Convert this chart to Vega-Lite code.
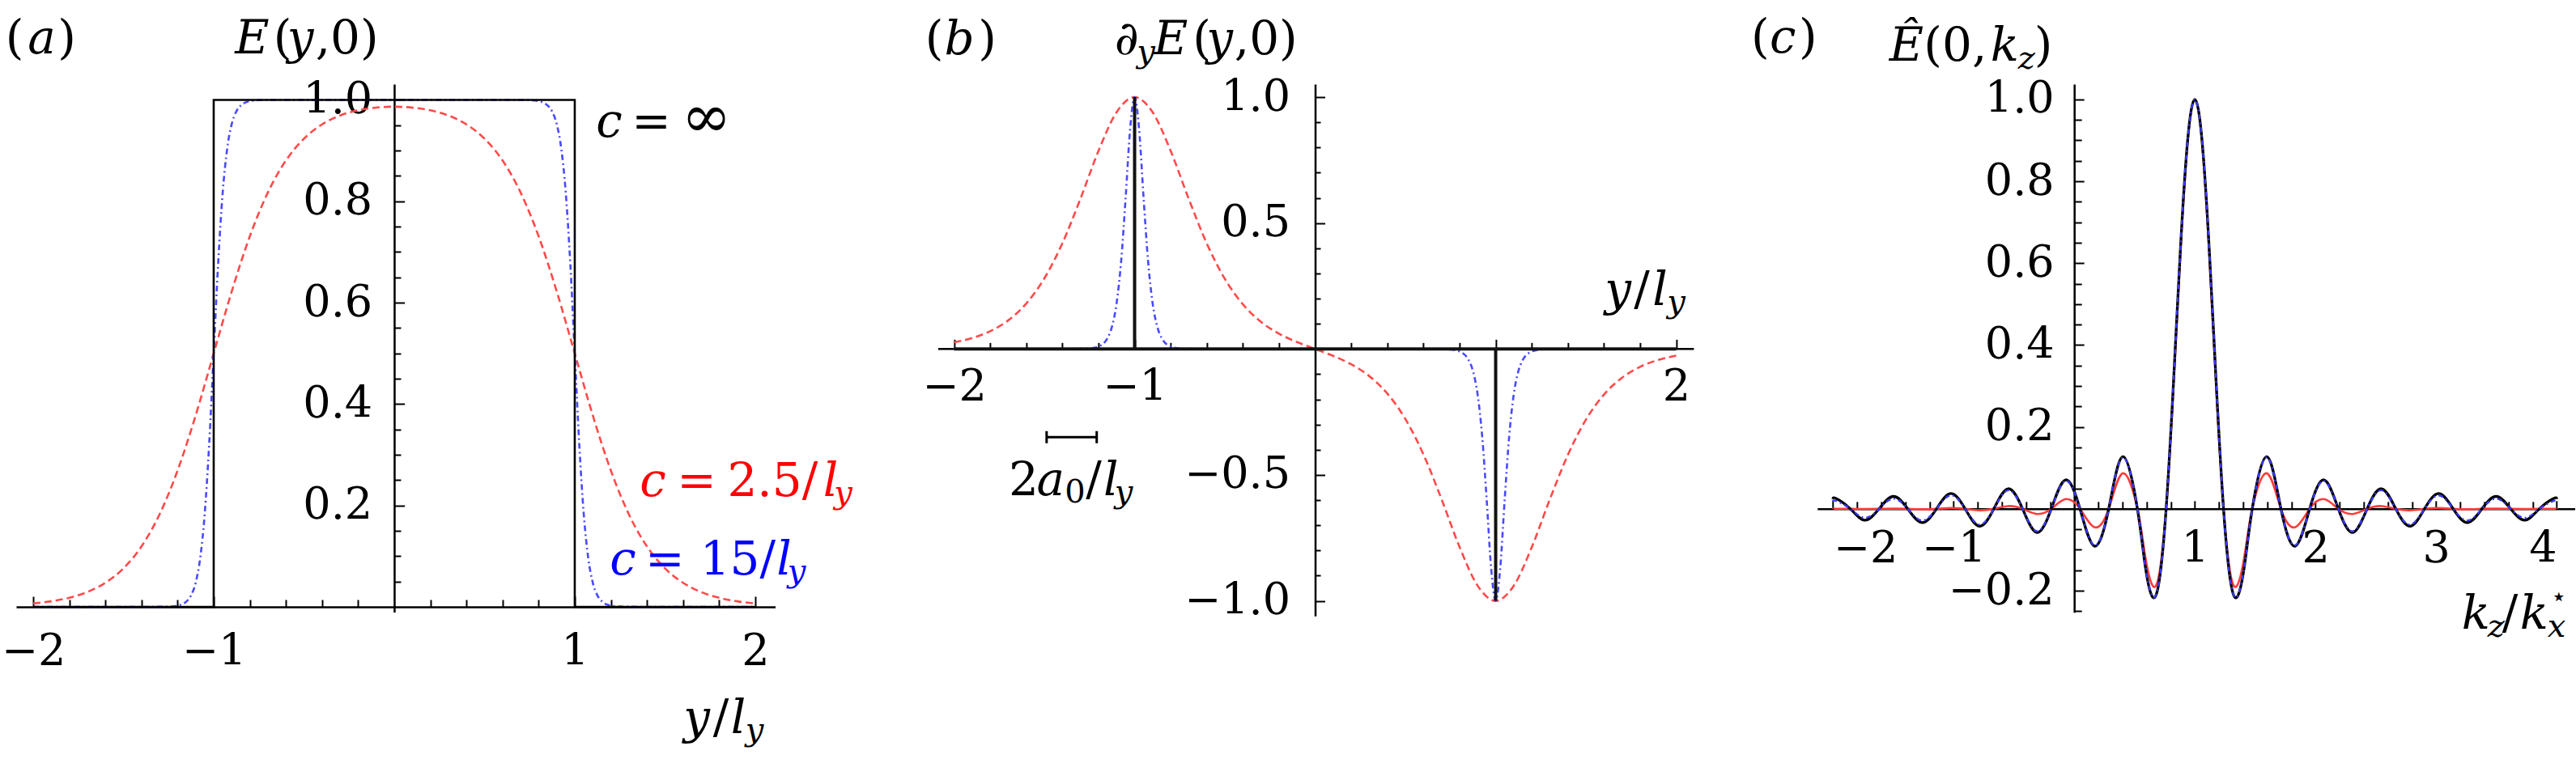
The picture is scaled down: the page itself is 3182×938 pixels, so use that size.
{
"$schema": "https://vega.github.io/schema/vega-lite/v6.json",
"background": "white",
"autosize": {"type": "pad"},
"padding": {"left": 1, "top": 19, "right": 0, "bottom": 0},
"columns": 3,
"spacing": 151.9,
"bounds": "flush",
"align": "each",
"datasets": {
"A": [
{"x":-2,"y":0,"s":"inf"},{"x":-1,"y":0,"s":"inf"},{"x":-1,"y":1,"s":"inf"},{"x":1,"y":1,"s":"inf"},{"x":1,"y":0,"s":"inf"},{"x":2,"y":0,"s":"inf"},
{"x":-2.0,"y":0.0067,"s":"c25"},{"x":-1.9,"y":0.0110,"s":"c25"},{"x":-1.8,"y":0.0180,"s":"c25"},{"x":-1.7,"y":0.0293,"s":"c25"},{"x":-1.6,"y":0.0474,"s":"c25"},{"x":-1.5,"y":0.0759,"s":"c25"},{"x":-1.4,"y":0.1192,"s":"c25"},{"x":-1.3,"y":0.1824,"s":"c25"},{"x":-1.2,"y":0.2689,"s":"c25"},{"x":-1.1,"y":0.3775,"s":"c25"},{"x":-1.0,"y":0.5000,"s":"c25"},{"x":-0.9,"y":0.6224,"s":"c25"},{"x":-0.8,"y":0.7309,"s":"c25"},{"x":-0.7,"y":0.8174,"s":"c25"},{"x":-0.6,"y":0.8805,"s":"c25"},{"x":-0.5,"y":0.9236,"s":"c25"},{"x":-0.4,"y":0.9517,"s":"c25"},{"x":-0.3,"y":0.9692,"s":"c25"},{"x":-0.2,"y":0.9795,"s":"c25"},{"x":-0.1,"y":0.9849,"s":"c25"},{"x":0,"y":0.9866,"s":"c25"},{"x":0.1,"y":0.9849,"s":"c25"},{"x":0.2,"y":0.9795,"s":"c25"},{"x":0.3,"y":0.9692,"s":"c25"},{"x":0.4,"y":0.9517,"s":"c25"},{"x":0.5,"y":0.9236,"s":"c25"},{"x":0.6,"y":0.8805,"s":"c25"},{"x":0.7,"y":0.8174,"s":"c25"},{"x":0.8,"y":0.7309,"s":"c25"},{"x":0.9,"y":0.6224,"s":"c25"},{"x":1.0,"y":0.5000,"s":"c25"},{"x":1.1,"y":0.3775,"s":"c25"},{"x":1.2,"y":0.2689,"s":"c25"},{"x":1.3,"y":0.1824,"s":"c25"},{"x":1.4,"y":0.1192,"s":"c25"},{"x":1.5,"y":0.0759,"s":"c25"},{"x":1.6,"y":0.0474,"s":"c25"},{"x":1.7,"y":0.0293,"s":"c25"},{"x":1.8,"y":0.0180,"s":"c25"},{"x":1.9,"y":0.0110,"s":"c25"},{"x":2.0,"y":0.0067,"s":"c25"},
{"x":-2,"y":0,"s":"c15"},{"x":-1.3,"y":0.0001,"s":"c15"},{"x":-1.25,"y":0.0006,"s":"c15"},{"x":-1.2,"y":0.0025,"s":"c15"},{"x":-1.15,"y":0.0110,"s":"c15"},{"x":-1.125,"y":0.0230,"s":"c15"},{"x":-1.1,"y":0.0474,"s":"c15"},{"x":-1.075,"y":0.0954,"s":"c15"},{"x":-1.05,"y":0.1824,"s":"c15"},{"x":-1.025,"y":0.3208,"s":"c15"},{"x":-1.0,"y":0.5,"s":"c15"},{"x":-0.975,"y":0.6792,"s":"c15"},{"x":-0.95,"y":0.8176,"s":"c15"},{"x":-0.925,"y":0.9047,"s":"c15"},{"x":-0.9,"y":0.9526,"s":"c15"},{"x":-0.875,"y":0.9770,"s":"c15"},{"x":-0.85,"y":0.9890,"s":"c15"},{"x":-0.8,"y":0.9975,"s":"c15"},{"x":-0.75,"y":0.9995,"s":"c15"},{"x":-0.7,"y":0.9999,"s":"c15"},{"x":0,"y":1.0,"s":"c15"},{"x":0.7,"y":0.9999,"s":"c15"},{"x":0.75,"y":0.9995,"s":"c15"},{"x":0.8,"y":0.9975,"s":"c15"},{"x":0.85,"y":0.9890,"s":"c15"},{"x":0.875,"y":0.9770,"s":"c15"},{"x":0.9,"y":0.9526,"s":"c15"},{"x":0.925,"y":0.9047,"s":"c15"},{"x":0.95,"y":0.8176,"s":"c15"},{"x":0.975,"y":0.6792,"s":"c15"},{"x":1.0,"y":0.5,"s":"c15"},{"x":1.025,"y":0.3208,"s":"c15"},{"x":1.05,"y":0.1824,"s":"c15"},{"x":1.075,"y":0.0954,"s":"c15"},{"x":1.1,"y":0.0474,"s":"c15"},{"x":1.125,"y":0.0230,"s":"c15"},{"x":1.15,"y":0.0110,"s":"c15"},{"x":1.2,"y":0.0025,"s":"c15"},{"x":1.25,"y":0.0006,"s":"c15"},{"x":1.3,"y":0.0001,"s":"c15"},{"x":2,"y":0,"s":"c15"}
],
"B": [
{"x":-2,"y":0,"s":"inf"},{"x":-1,"y":0,"s":"inf"},{"x":-1,"y":1,"s":"inf"},{"x":-1,"y":0,"s":"inf"},{"x":1,"y":0,"s":"inf"},{"x":1,"y":-1,"s":"inf"},{"x":1,"y":0,"s":"inf"},{"x":2,"y":0,"s":"inf"},
{"x":-2.0,"y":0.0266,"s":"c25"},{"x":-1.9,"y":0.0435,"s":"c25"},{"x":-1.8,"y":0.0707,"s":"c25"},{"x":-1.7,"y":0.1138,"s":"c25"},{"x":-1.6,"y":0.1807,"s":"c25"},{"x":-1.5,"y":0.2804,"s":"c25"},{"x":-1.4,"y":0.4200,"s":"c25"},{"x":-1.3,"y":0.5966,"s":"c25"},{"x":-1.2,"y":0.7865,"s":"c25"},{"x":-1.1,"y":0.9400,"s":"c25"},{"x":-1.0,"y":0.9998,"s":"c25"},{"x":-0.9,"y":0.9397,"s":"c25"},{"x":-0.8,"y":0.7860,"s":"c25"},{"x":-0.7,"y":0.5958,"s":"c25"},{"x":-0.6,"y":0.4186,"s":"c25"},{"x":-0.5,"y":0.2782,"s":"c25"},{"x":-0.4,"y":0.1771,"s":"c25"},{"x":-0.3,"y":0.1078,"s":"c25"},{"x":-0.2,"y":0.0608,"s":"c25"},{"x":-0.1,"y":0.0273,"s":"c25"},{"x":0,"y":0,"s":"c25"},{"x":0.1,"y":-0.0273,"s":"c25"},{"x":0.2,"y":-0.0608,"s":"c25"},{"x":0.3,"y":-0.1078,"s":"c25"},{"x":0.4,"y":-0.1771,"s":"c25"},{"x":0.5,"y":-0.2782,"s":"c25"},{"x":0.6,"y":-0.4186,"s":"c25"},{"x":0.7,"y":-0.5958,"s":"c25"},{"x":0.8,"y":-0.7860,"s":"c25"},{"x":0.9,"y":-0.9397,"s":"c25"},{"x":1.0,"y":-0.9998,"s":"c25"},{"x":1.1,"y":-0.9400,"s":"c25"},{"x":1.2,"y":-0.7865,"s":"c25"},{"x":1.3,"y":-0.5966,"s":"c25"},{"x":1.4,"y":-0.4200,"s":"c25"},{"x":1.5,"y":-0.2804,"s":"c25"},{"x":1.6,"y":-0.1807,"s":"c25"},{"x":1.7,"y":-0.1138,"s":"c25"},{"x":1.8,"y":-0.0707,"s":"c25"},{"x":1.9,"y":-0.0435,"s":"c25"},{"x":2.0,"y":-0.0266,"s":"c25"},
{"x":-2,"y":0,"s":"c15"},{"x":-1.3,"y":0.0005,"s":"c15"},{"x":-1.25,"y":0.0022,"s":"c15"},{"x":-1.2,"y":0.0099,"s":"c15"},{"x":-1.15,"y":0.0435,"s":"c15"},{"x":-1.125,"y":0.0898,"s":"c15"},{"x":-1.1,"y":0.1807,"s":"c15"},{"x":-1.075,"y":0.3450,"s":"c15"},{"x":-1.05,"y":0.5966,"s":"c15"},{"x":-1.025,"y":0.8716,"s":"c15"},{"x":-1.0,"y":1.0,"s":"c15"},{"x":-0.975,"y":0.8716,"s":"c15"},{"x":-0.95,"y":0.5966,"s":"c15"},{"x":-0.925,"y":0.3450,"s":"c15"},{"x":-0.9,"y":0.1807,"s":"c15"},{"x":-0.875,"y":0.0898,"s":"c15"},{"x":-0.85,"y":0.0435,"s":"c15"},{"x":-0.8,"y":0.0099,"s":"c15"},{"x":-0.75,"y":0.0022,"s":"c15"},{"x":-0.7,"y":0.0005,"s":"c15"},{"x":0,"y":0,"s":"c15"},{"x":0.7,"y":-0.0005,"s":"c15"},{"x":0.75,"y":-0.0022,"s":"c15"},{"x":0.8,"y":-0.0099,"s":"c15"},{"x":0.85,"y":-0.0435,"s":"c15"},{"x":0.875,"y":-0.0898,"s":"c15"},{"x":0.9,"y":-0.1807,"s":"c15"},{"x":0.925,"y":-0.3450,"s":"c15"},{"x":0.95,"y":-0.5966,"s":"c15"},{"x":0.975,"y":-0.8716,"s":"c15"},{"x":1.0,"y":-1.0,"s":"c15"},{"x":1.025,"y":-0.8716,"s":"c15"},{"x":1.05,"y":-0.5966,"s":"c15"},{"x":1.075,"y":-0.3450,"s":"c15"},{"x":1.1,"y":-0.1807,"s":"c15"},{"x":1.125,"y":-0.0898,"s":"c15"},{"x":1.15,"y":-0.0435,"s":"c15"},{"x":1.2,"y":-0.0099,"s":"c15"},{"x":1.25,"y":-0.0022,"s":"c15"},{"x":1.3,"y":-0.0005,"s":"c15"},{"x":2,"y":0,"s":"c15"}
],
"C": [
{"x":-2.0,"y":0.0239,"s":"inf"},{"x":-1.975,"y":0.0255,"s":"inf"},{"x":-1.856,"y":0,"s":"inf"},{"x":-1.737,"y":-0.0277,"s":"inf"},{"x":-1.618,"y":0,"s":"inf"},{"x":-1.499,"y":0.0303,"s":"inf"},{"x":-1.38,"y":0,"s":"inf"},{"x":-1.261,"y":-0.0335,"s":"inf"},{"x":-1.142,"y":0,"s":"inf"},{"x":-1.023,"y":0.0375,"s":"inf"},{"x":-0.904,"y":0,"s":"inf"},{"x":-0.785,"y":-0.0424,"s":"inf"},{"x":-0.666,"y":0,"s":"inf"},{"x":-0.547,"y":0.0490,"s":"inf"},{"x":-0.428,"y":0,"s":"inf"},{"x":-0.309,"y":-0.0579,"s":"inf"},{"x":-0.19,"y":0,"s":"inf"},{"x":-0.071,"y":0.0707,"s":"inf"},{"x":0.048,"y":0,"s":"inf"},{"x":0.167,"y":-0.0910,"s":"inf"},{"x":0.286,"y":0,"s":"inf"},{"x":0.405,"y":0.1273,"s":"inf"},{"x":0.524,"y":0,"s":"inf"},{"x":0.5835,"y":-0.1286,"s":"inf"},{"x":0.643,"y":-0.2122,"s":"inf"},{"x":0.7025,"y":-0.1801,"s":"inf"},{"x":0.762,"y":0,"s":"inf"},{"x":0.8215,"y":0.3001,"s":"inf"},{"x":0.881,"y":0.6366,"s":"inf"},{"x":0.9405,"y":0.9003,"s":"inf"},{"x":1.0,"y":1.0,"s":"inf"},{"x":1.0595,"y":0.9003,"s":"inf"},{"x":1.119,"y":0.6366,"s":"inf"},{"x":1.1785,"y":0.3001,"s":"inf"},{"x":1.238,"y":0,"s":"inf"},{"x":1.2975,"y":-0.1801,"s":"inf"},{"x":1.357,"y":-0.2122,"s":"inf"},{"x":1.4165,"y":-0.1286,"s":"inf"},{"x":1.476,"y":0,"s":"inf"},{"x":1.595,"y":0.1273,"s":"inf"},{"x":1.714,"y":0,"s":"inf"},{"x":1.833,"y":-0.0910,"s":"inf"},{"x":1.952,"y":0,"s":"inf"},{"x":2.071,"y":0.0707,"s":"inf"},{"x":2.19,"y":0,"s":"inf"},{"x":2.309,"y":-0.0579,"s":"inf"},{"x":2.428,"y":0,"s":"inf"},{"x":2.547,"y":0.0490,"s":"inf"},{"x":2.666,"y":0,"s":"inf"},{"x":2.785,"y":-0.0424,"s":"inf"},{"x":2.904,"y":0,"s":"inf"},{"x":3.023,"y":0.0375,"s":"inf"},{"x":3.142,"y":0,"s":"inf"},{"x":3.261,"y":-0.0335,"s":"inf"},{"x":3.38,"y":0,"s":"inf"},{"x":3.499,"y":0.0303,"s":"inf"},{"x":3.618,"y":0,"s":"inf"},{"x":3.737,"y":-0.0277,"s":"inf"},{"x":3.856,"y":0,"s":"inf"},{"x":3.975,"y":0.0255,"s":"inf"},{"x":4.0,"y":0.0239,"s":"inf"},
{"x":-2.0,"y":0.0182,"s":"c15"},{"x":-1.975,"y":0.0194,"s":"c15"},{"x":-1.856,"y":0,"s":"c15"},{"x":-1.737,"y":-0.0220,"s":"c15"},{"x":-1.618,"y":0,"s":"c15"},{"x":-1.499,"y":0.0250,"s":"c15"},{"x":-1.38,"y":0,"s":"c15"},{"x":-1.261,"y":-0.0285,"s":"c15"},{"x":-1.142,"y":0,"s":"c15"},{"x":-1.023,"y":0.0329,"s":"c15"},{"x":-0.904,"y":0,"s":"c15"},{"x":-0.785,"y":-0.0384,"s":"c15"},{"x":-0.666,"y":0,"s":"c15"},{"x":-0.547,"y":0.0454,"s":"c15"},{"x":-0.428,"y":0,"s":"c15"},{"x":-0.309,"y":-0.0548,"s":"c15"},{"x":-0.19,"y":0,"s":"c15"},{"x":-0.071,"y":0.0682,"s":"c15"},{"x":0.048,"y":0,"s":"c15"},{"x":0.167,"y":-0.0890,"s":"c15"},{"x":0.286,"y":0,"s":"c15"},{"x":0.405,"y":0.1259,"s":"c15"},{"x":0.524,"y":0,"s":"c15"},{"x":0.5835,"y":-0.1279,"s":"c15"},{"x":0.643,"y":-0.2113,"s":"c15"},{"x":0.7025,"y":-0.1796,"s":"c15"},{"x":0.762,"y":0,"s":"c15"},{"x":0.8215,"y":0.2998,"s":"c15"},{"x":0.881,"y":0.6363,"s":"c15"},{"x":0.9405,"y":0.9002,"s":"c15"},{"x":1.0,"y":1.0,"s":"c15"},{"x":1.0595,"y":0.9002,"s":"c15"},{"x":1.119,"y":0.6363,"s":"c15"},{"x":1.1785,"y":0.2998,"s":"c15"},{"x":1.238,"y":0,"s":"c15"},{"x":1.2975,"y":-0.1796,"s":"c15"},{"x":1.357,"y":-0.2113,"s":"c15"},{"x":1.4165,"y":-0.1279,"s":"c15"},{"x":1.476,"y":0,"s":"c15"},{"x":1.595,"y":0.1259,"s":"c15"},{"x":1.714,"y":0,"s":"c15"},{"x":1.833,"y":-0.0890,"s":"c15"},{"x":1.952,"y":0,"s":"c15"},{"x":2.071,"y":0.0682,"s":"c15"},{"x":2.19,"y":0,"s":"c15"},{"x":2.309,"y":-0.0548,"s":"c15"},{"x":2.428,"y":0,"s":"c15"},{"x":2.547,"y":0.0454,"s":"c15"},{"x":2.666,"y":0,"s":"c15"},{"x":2.785,"y":-0.0384,"s":"c15"},{"x":2.904,"y":0,"s":"c15"},{"x":3.023,"y":0.0329,"s":"c15"},{"x":3.142,"y":0,"s":"c15"},{"x":3.261,"y":-0.0285,"s":"c15"},{"x":3.38,"y":0,"s":"c15"},{"x":3.499,"y":0.0250,"s":"c15"},{"x":3.618,"y":0,"s":"c15"},{"x":3.737,"y":-0.0220,"s":"c15"},{"x":3.856,"y":0,"s":"c15"},{"x":3.975,"y":0.0194,"s":"c15"},{"x":4.0,"y":0.0182,"s":"c15"},
{"x":-2.0,"y":0.0001,"s":"c25"},{"x":-1.975,"y":0.0002,"s":"c25"},{"x":-1.856,"y":0,"s":"c25"},{"x":-1.737,"y":-0.0003,"s":"c25"},{"x":-1.618,"y":0,"s":"c25"},{"x":-1.499,"y":0.0005,"s":"c25"},{"x":-1.38,"y":0,"s":"c25"},{"x":-1.261,"y":-0.0010,"s":"c25"},{"x":-1.142,"y":0,"s":"c25"},{"x":-1.023,"y":0.0019,"s":"c25"},{"x":-0.904,"y":0,"s":"c25"},{"x":-0.785,"y":-0.0036,"s":"c25"},{"x":-0.666,"y":0,"s":"c25"},{"x":-0.547,"y":0.0067,"s":"c25"},{"x":-0.428,"y":0,"s":"c25"},{"x":-0.309,"y":-0.0126,"s":"c25"},{"x":-0.19,"y":0,"s":"c25"},{"x":-0.071,"y":0.0237,"s":"c25"},{"x":0.048,"y":0,"s":"c25"},{"x":0.167,"y":-0.0449,"s":"c25"},{"x":0.286,"y":0,"s":"c25"},{"x":0.405,"y":0.0869,"s":"c25"},{"x":0.524,"y":0,"s":"c25"},{"x":0.5835,"y":-0.1059,"s":"c25"},{"x":0.643,"y":-0.1838,"s":"c25"},{"x":0.7025,"y":-0.1628,"s":"c25"},{"x":0.762,"y":0,"s":"c25"},{"x":0.8215,"y":0.2893,"s":"c25"},{"x":0.881,"y":0.6263,"s":"c25"},{"x":0.9405,"y":0.8966,"s":"c25"},{"x":1.0,"y":1.0,"s":"c25"},{"x":1.0595,"y":0.8966,"s":"c25"},{"x":1.119,"y":0.6263,"s":"c25"},{"x":1.1785,"y":0.2893,"s":"c25"},{"x":1.238,"y":0,"s":"c25"},{"x":1.2975,"y":-0.1628,"s":"c25"},{"x":1.357,"y":-0.1838,"s":"c25"},{"x":1.4165,"y":-0.1059,"s":"c25"},{"x":1.476,"y":0,"s":"c25"},{"x":1.595,"y":0.0869,"s":"c25"},{"x":1.714,"y":0,"s":"c25"},{"x":1.833,"y":-0.0449,"s":"c25"},{"x":1.952,"y":0,"s":"c25"},{"x":2.071,"y":0.0237,"s":"c25"},{"x":2.19,"y":0,"s":"c25"},{"x":2.309,"y":-0.0126,"s":"c25"},{"x":2.428,"y":0,"s":"c25"},{"x":2.547,"y":0.0067,"s":"c25"},{"x":2.666,"y":0,"s":"c25"},{"x":2.785,"y":-0.0036,"s":"c25"},{"x":2.904,"y":0,"s":"c25"},{"x":3.023,"y":0.0019,"s":"c25"},{"x":3.142,"y":0,"s":"c25"},{"x":3.261,"y":-0.0010,"s":"c25"},{"x":3.38,"y":0,"s":"c25"},{"x":3.499,"y":0.0005,"s":"c25"},{"x":3.618,"y":0,"s":"c25"},{"x":3.737,"y":-0.0003,"s":"c25"},{"x":3.856,"y":0,"s":"c25"},{"x":3.975,"y":0.0002,"s":"c25"},{"x":4.0,"y":0.0001,"s":"c25"}
],
"A_up": [
{"x":-2.1538,"y":1.0918,"t":"(","s":"k"},{"x":-1.8641,"y":1.0918,"t":")","s":"k"},
{"x":-0.6695,"y":1.0918,"t":"(","s":"k"},{"x":-0.4363,"y":1.0918,"t":",0)","s":"k"},
{"x":1.3148,"y":0.9274,"t":"=","s":"k"},
{"x":1.5664,"y":0.2187,"t":"=","s":"r"},{"x":1.8453,"y":0.2187,"t":"2.5/","s":"r"},
{"x":1.3906,"y":0.0645,"t":"=","s":"b"},{"x":1.6937,"y":0.0645,"t":"15/","s":"b"},
{"x":1.7655,"y":-0.2490,"t":"/","s":"k"}
],
"A_big": [
{"x":1.5910,"y":0.9274,"t":"∞","s":"k"}
],
"A_it": [
{"x":-2.0300,"y":1.0918,"t":"a","s":"k"},{"x":-0.8816,"y":1.0918,"t":"E","s":"k"},{"x":-0.5933,"y":1.0918,"t":"y","s":"k"},
{"x":1.1179,"y":0.9274,"t":"c","s":"k"},
{"x":1.3605,"y":0.2187,"t":"c","s":"r"},{"x":2.3753,"y":0.2187,"t":"l","s":"r"},
{"x":1.1937,"y":0.0645,"t":"c","s":"b"},{"x":2.1179,"y":0.0645,"t":"l","s":"b"},
{"x":1.6027,"y":-0.2490,"t":"y","s":"k"},{"x":1.8641,"y":-0.2490,"t":"l","s":"k"}
],
"A_sub": [
{"x":2.4359,"y":0.2043,"t":"y","s":"r"},{"x":2.1780,"y":0.0501,"t":"y","s":"b"},{"x":1.9448,"y":-0.2634,"t":"y","s":"k"}
],
"B_up": [
{"x":-2.1605,"y":1.1703,"t":"(","s":"k"},{"x":-1.8668,"y":1.1703,"t":")","s":"k"},
{"x":-0.6785,"y":1.1703,"t":"(","s":"k"},{"x":-0.4475,"y":1.1703,"t":",0)","s":"k"},
{"x":1.7655,"y":0.1760,"t":"/","s":"k"},
{"x":-1.6973,"y":-0.5795,"t":"2","s":"k"},{"x":-1.2704,"y":-0.5795,"t":"/","s":"k"}
],
"B_it": [
{"x":-2.0534,"y":1.1703,"t":"b","s":"k"},{"x":-1.1112,"y":1.1703,"t":"∂","s":"k"},{"x":-0.8951,"y":1.1703,"t":"E","s":"k"},{"x":-0.6022,"y":1.1703,"t":"y","s":"k"},
{"x":1.6040,"y":0.1760,"t":"y","s":"k"},{"x":1.8686,"y":0.1760,"t":"l","s":"k"},
{"x":-1.5426,"y":-0.5795,"t":"a","s":"k"},{"x":-1.1726,"y":-0.5795,"t":"l","s":"k"}
],
"B_sub": [
{"x":-0.9879,"y":1.1382,"t":"y","s":"k"},{"x":1.9493,"y":0.1471,"t":"y","s":"k"},{"x":-1.1112,"y":-0.6084,"t":"y","s":"k"}
],
"B_subup": [
{"x":-1.3870,"y":-0.6084,"t":"0","s":"k"}
],
"C_up": [
{"x":-2.6792,"y":1.1142,"t":"(","s":"k"},{"x":-2.2826,"y":1.1142,"t":")","s":"k"},
{"x":-1.2470,"y":1.0945,"t":"(0,","s":"k"},{"x":-0.3322,"y":1.0945,"t":")","s":"k"},
{"x":3.5470,"y":-0.2923,"t":"/","s":"k"}
],
"C_it": [
{"x":-2.5248,"y":1.1142,"t":"c","s":"k"},{"x":-1.5336,"y":1.0945,"t":"Ê","s":"k"},{"x":-0.6946,"y":1.0945,"t":"k","s":"k"},
{"x":3.2114,"y":-0.2923,"t":"k","s":"k"},{"x":3.6946,"y":-0.2923,"t":"k","s":"k"}
],
"C_sub": [
{"x":-0.4664,"y":1.0747,"t":"z","s":"k"},{"x":3.4262,"y":-0.3121,"t":"z","s":"k"},{"x":3.9228,"y":-0.3121,"t":"x","s":"k"}
],
"C_subup": [
{"x":3.9497,"y":-0.2356,"t":"⋆","s":"k"}
]
},
"concat": [
{
"width": 937.5, "height": 652.5,
"data": {"name": "A"},
"encoding": {
 "x": {"field": "x", "type": "quantitative", "scale": {"domain": [-2.094, 2.11], "nice": false, "zero": false}, "axis": null},
 "y": {"field": "y", "type": "quantitative", "scale": {"domain": [-0.0104, 1.0311], "nice": false, "zero": false}, "axis": null}
},
"layer": [
 {"transform": [{"filter": "datum.s === 'c25'"}],
  "mark": {"type": "line", "color": "#ff4a4a", "strokeWidth": 2.6, "strokeDash": [9, 5], "interpolate": "monotone"},
  "encoding": {
   "x": {"field": "x", "type": "quantitative", "scale": {"domain": [-2.094, 2.11], "nice": false, "zero": false},
         "axis": {"orient": "bottom", "offset": -6.52, "values": [-2, -1, 1, 2], "format": "d", "tickSize": -13, "labelPadding": 42, "title": null}},
   "y": {"field": "y", "type": "quantitative", "scale": {"domain": [-0.0104, 1.0311], "nice": false, "zero": false},
         "axis": {"orient": "left", "offset": -466.96, "values": [0.2, 0.4, 0.6, 0.8, 1.0], "format": ".1f", "tickSize": -12.7, "labelPadding": 40, "title": null}}
  }},
 {"transform": [{"filter": "datum.s === 'c15'"}],
  "mark": {"type": "line", "color": "#4a4aff", "strokeWidth": 2.6, "strokeDash": [7, 4, 2, 4], "interpolate": "monotone"},
  "encoding": {
   "x": {"field": "x", "type": "quantitative", "scale": {"domain": [-2.094, 2.11], "nice": false, "zero": false},
         "axis": {"orient": "bottom", "offset": -6.52, "values": [-1.8, -1.6, -1.4, -1.2, -0.8, -0.6, -0.4, -0.2, 0.2, 0.4, 0.6, 0.8, 1.2, 1.4, 1.6, 1.8], "labels": false, "domain": false, "tickSize": -9, "title": null}},
   "y": {"field": "y", "type": "quantitative", "scale": {"domain": [-0.0104, 1.0311], "nice": false, "zero": false},
         "axis": {"orient": "left", "offset": -466.96, "values": [0.05, 0.1, 0.15, 0.25, 0.3, 0.35, 0.45, 0.5, 0.55, 0.65, 0.7, 0.75, 0.85, 0.9, 0.95], "labels": false, "domain": false, "tickSize": -8, "title": null}}
  }},
 {"transform": [{"filter": "datum.s === 'inf'"}],
  "mark": {"type": "line", "color": "#000000", "strokeWidth": 2.6, "interpolate": "linear"},
  "encoding": {"order": {"value": null}}},
 {"data": {"name": "A_up"}, "mark": {"type": "text", "font": "DejaVu Serif", "fontSize": 58, "align": "left", "baseline": "alphabetic"},
  "encoding": {"text": {"field": "t"}, "color": {"field": "s", "type": "nominal", "scale": {"domain": ["k", "r", "b"], "range": ["#000000", "#ff0000", "#0000ff"]}, "legend": null}}},
 {"data": {"name": "A_big"}, "mark": {"type": "text", "font": "DejaVu Serif", "fontSize": 74, "align": "left", "baseline": "alphabetic", "color": "#000000"},
  "encoding": {"text": {"field": "t"}}},
 {"data": {"name": "A_it"}, "mark": {"type": "text", "font": "DejaVu Serif", "fontStyle": "italic", "fontSize": 58, "align": "left", "baseline": "alphabetic"},
  "encoding": {"text": {"field": "t"}, "color": {"field": "s", "type": "nominal", "scale": {"domain": ["k", "r", "b"], "range": ["#000000", "#ff0000", "#0000ff"]}, "legend": null}}},
 {"data": {"name": "A_sub"}, "mark": {"type": "text", "font": "DejaVu Serif", "fontStyle": "italic", "fontSize": 40, "align": "left", "baseline": "alphabetic"},
  "encoding": {"text": {"field": "t"}, "color": {"field": "s", "type": "nominal", "scale": {"domain": ["k", "r", "b"], "range": ["#000000", "#ff0000", "#0000ff"]}, "legend": null}}}
],
"resolve": {"axis": {"x": "independent", "y": "independent"}}
},
{
"width": 982.5, "height": 657.3,
"data": {"name": "B"},
"encoding": {
 "x": {"field": "x", "type": "quantitative", "scale": {"domain": [-2.3077, 2.098], "nice": false, "zero": false}, "axis": null},
 "y": {"field": "y", "type": "quantitative", "scale": {"domain": [-1.06, 1.0514], "nice": false, "zero": false}, "axis": null}
},
"layer": [
 {"data": {"values": [{"x": -2.088, "x2": 2.098, "y": 0}]},
  "mark": {"type": "rule", "color": "#000000", "strokeWidth": 2.5},
  "encoding": {"x2": {"field": "x2"}}},
 {"transform": [{"filter": "datum.s === 'c25'"}],
  "mark": {"type": "line", "color": "#ff4a4a", "strokeWidth": 2.6, "strokeDash": [9, 5], "interpolate": "monotone"},
  "encoding": {
   "x": {"field": "x", "type": "quantitative", "scale": {"domain": [-2.3077, 2.098], "nice": false, "zero": false},
         "axis": {"orient": "bottom", "offset": -329.98, "values": [-2, -1, 1, 2], "format": "d", "labelExpr": "datum.value === 1 ? '' : datum.label", "domain": false, "tickSize": -12, "labelPadding": 32.5, "title": null}},
   "y": {"field": "y", "type": "quantitative", "scale": {"domain": [-1.06, 1.0514], "nice": false, "zero": false},
         "axis": {"orient": "left", "offset": -514.62, "values": [-1, -0.5, 0.5, 1], "format": ".1f", "tickSize": -12, "labelPadding": 43, "title": null}}
  }},
 {"transform": [{"filter": "datum.s === 'c15'"}],
  "mark": {"type": "line", "color": "#4a4aff", "strokeWidth": 2.6, "strokeDash": [7, 4, 2, 4], "interpolate": "monotone"},
  "encoding": {
   "x": {"field": "x", "type": "quantitative", "scale": {"domain": [-2.3077, 2.098], "nice": false, "zero": false},
         "axis": {"orient": "bottom", "offset": -329.98, "values": [-1.8, -1.6, -1.4, -1.2, -0.8, -0.6, -0.4, -0.2, 0.2, 0.4, 0.6, 0.8, 1.2, 1.4, 1.6, 1.8], "labels": false, "domain": false, "tickSize": -8, "title": null}},
   "y": {"field": "y", "type": "quantitative", "scale": {"domain": [-1.06, 1.0514], "nice": false, "zero": false},
         "axis": {"orient": "left", "offset": -514.62, "values": [-0.9, -0.8, -0.7, -0.6, -0.4, -0.3, -0.2, -0.1, 0.1, 0.2, 0.3, 0.4, 0.6, 0.7, 0.8, 0.9], "labels": false, "domain": false, "tickSize": -6.5, "title": null}}
  }},
 {"transform": [{"filter": "datum.s === 'inf'"}],
  "mark": {"type": "line", "color": "#111111", "strokeWidth": 4, "interpolate": "linear"},
  "encoding": {"order": {"value": null}}},
 {"data": {"values": [{"x": -1.4874, "x2": -1.2099, "y": -0.35}]},
  "mark": {"type": "rule", "color": "#000000", "strokeWidth": 3},
  "encoding": {"x2": {"field": "x2"}}},
 {"data": {"values": [{"x": -1.4874, "y": -0.326, "y2": -0.374}, {"x": -1.2099, "y": -0.326, "y2": -0.374}]},
  "mark": {"type": "rule", "color": "#000000", "strokeWidth": 3},
  "encoding": {"y2": {"field": "y2"}}},
 {"data": {"name": "B_up"}, "mark": {"type": "text", "font": "DejaVu Serif", "fontSize": 58, "align": "left", "baseline": "alphabetic", "color": "#000000"},
  "encoding": {"text": {"field": "t"}}},
 {"data": {"name": "B_it"}, "mark": {"type": "text", "font": "DejaVu Serif", "fontStyle": "italic", "fontSize": 58, "align": "left", "baseline": "alphabetic", "color": "#000000"},
  "encoding": {"text": {"field": "t"}}},
 {"data": {"name": "B_sub"}, "mark": {"type": "text", "font": "DejaVu Serif", "fontStyle": "italic", "fontSize": 40, "align": "left", "baseline": "alphabetic", "color": "#000000"},
  "encoding": {"text": {"field": "t"}}},
 {"data": {"name": "B_subup"}, "mark": {"type": "text", "font": "DejaVu Serif", "fontSize": 40, "align": "left", "baseline": "alphabetic", "color": "#000000"},
  "encoding": {"text": {"field": "t"}}}
],
"resolve": {"axis": {"x": "independent", "y": "independent"}}
},
{
"width": 935.7, "height": 652.7,
"data": {"name": "C"},
"encoding": {
 "x": {"field": "x", "type": "quantitative", "scale": {"domain": [-2.13, 4.15], "nice": false, "zero": false}, "axis": null},
 "y": {"field": "y", "type": "quantitative", "scale": {"domain": [-0.2527, 1.0372], "nice": false, "zero": false}, "axis": null}
},
"layer": [
 {"transform": [{"filter": "datum.s === 'c25'"}],
  "mark": {"type": "line", "color": "#ff3b3b", "strokeWidth": 2.6, "interpolate": "natural"},
  "encoding": {
   "x": {"field": "x", "type": "quantitative", "scale": {"domain": [-2.13, 4.15], "nice": false, "zero": false},
         "axis": {"orient": "bottom", "offset": -127.87, "values": [-2, -1, 1, 2, 3, 4], "format": "d", "tickSize": -10, "labelPadding": 33, "labelFlush": 25, "title": null}},
   "y": {"field": "y", "type": "quantitative", "scale": {"domain": [-0.2527, 1.0372], "nice": false, "zero": false},
         "axis": {"orient": "left", "offset": -317.37, "values": [-0.2, 0.2, 0.4, 0.6, 0.8, 1.0], "format": ".1f", "tickSize": -12, "labelPadding": 37, "title": null}}
  }},
 {"transform": [{"filter": "datum.s === 'inf'"}],
  "mark": {"type": "line", "color": "#000000", "strokeWidth": 3.3, "interpolate": "natural"},
  "encoding": {
   "x": {"field": "x", "type": "quantitative", "scale": {"domain": [-2.13, 4.15], "nice": false, "zero": false},
         "axis": {"orient": "bottom", "offset": -127.87, "values": [-1.8, -1.6, -1.4, -1.2, -0.8, -0.6, -0.4, -0.2, 0.2, 0.4, 0.6, 0.8, 1.2, 1.4, 1.6, 1.8, 2.2, 2.4, 2.6, 2.8, 3.2, 3.4, 3.6, 3.8], "labels": false, "domain": false, "tickSize": -9, "title": null}},
   "y": {"field": "y", "type": "quantitative", "scale": {"domain": [-0.2527, 1.0372], "nice": false, "zero": false},
         "axis": {"orient": "left", "offset": -317.37, "values": [-0.25, -0.15, -0.1, -0.05, 0.05, 0.1, 0.15, 0.25, 0.3, 0.35, 0.45, 0.5, 0.55, 0.65, 0.7, 0.75, 0.85, 0.9, 0.95], "labels": false, "domain": false, "tickSize": -9, "title": null}}
  }},
 {"transform": [{"filter": "datum.s === 'c15'"}],
  "mark": {"type": "line", "color": "#3a3aff", "strokeWidth": 2.4, "strokeDash": [6, 4, 2, 4], "interpolate": "natural"}},
 {"data": {"name": "C_up"}, "mark": {"type": "text", "font": "DejaVu Serif", "fontSize": 58, "align": "left", "baseline": "alphabetic", "color": "#000000"},
  "encoding": {"text": {"field": "t"}}},
 {"data": {"name": "C_it"}, "mark": {"type": "text", "font": "DejaVu Serif", "fontStyle": "italic", "fontSize": 58, "align": "left", "baseline": "alphabetic", "color": "#000000"},
  "encoding": {"text": {"field": "t"}}},
 {"data": {"name": "C_sub"}, "mark": {"type": "text", "font": "DejaVu Serif", "fontStyle": "italic", "fontSize": 40, "align": "left", "baseline": "alphabetic", "color": "#000000"},
  "encoding": {"text": {"field": "t"}}},
 {"data": {"name": "C_subup"}, "mark": {"type": "text", "font": "DejaVu Sans", "fontSize": 32, "align": "left", "baseline": "alphabetic", "color": "#000000"},
  "encoding": {"text": {"field": "t"}}}
],
"resolve": {"axis": {"x": "independent", "y": "independent"}}
}
],
"config": {
 "view": {"stroke": null},
 "axis": {"grid": false, "labelFont": "DejaVu Serif", "labelFontSize": 54, "labelColor": "#000000", "tickColor": "#000000", "domainColor": "#000000", "tickWidth": 2, "domainWidth": 2.5, "labelOverlap": false, "labelFlush": false, "labelBound": false, "ticks": true}
}
}
